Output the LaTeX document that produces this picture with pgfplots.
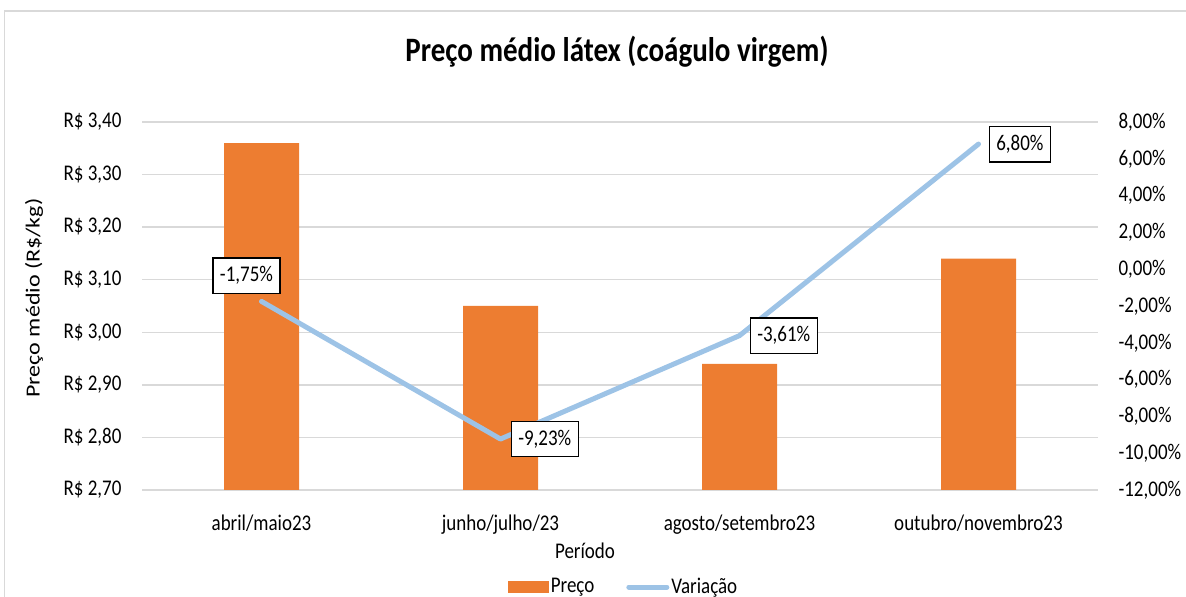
\documentclass[border=0pt]{standalone}
\usepackage{pgfplots}
\pgfplotsset{compat=1.18}
\usepackage{fontspec}
\setmainfont{Carlito}
\definecolor{barorange}{HTML}{ED7D31}
\definecolor{lineblue}{HTML}{9DC3E6}
\definecolor{gridgray}{HTML}{D9D9D9}
\tikzset{label box/.style={draw=black, line width=1.5pt, fill=white, text=black,
    inner xsep=7pt, inner ysep=0pt, minimum height=30pt, yscale=1.18, font=\fontsize{19}{23}\selectfont}}
\begin{document}
\begin{tikzpicture}
\fontsize{19}{23}\selectfont
\path[use as bounding box] (0pt,0pt) rectangle (1186pt,597pt);
\draw[gridgray, line width=1.5pt] (4.5pt,0pt) -- (4.5pt,586pt) -- (1190pt,586pt);
\node[font=\fontsize{29}{34}\selectfont\bfseries, yscale=1.18] at (617pt,545pt) {Preço médio látex (coágulo virgem)};
\node[font=\fontsize{20}{24}\selectfont] at (34pt,299pt) {\rotatebox{90}{\scalebox{1.2}[1]{Preço médio (R\$/kg)}}};
\node[yscale=1.18] at (585pt,46pt) {Período};
\begin{axis}[
  at={(142pt,107pt)}, anchor=south west,
  scale only axis, width=956pt, height=368pt,
  xmin=-0.5, xmax=3.5, ymin=2.70, ymax=3.40,
  xtick={0,1,2,3},
  xticklabels={abril/maio23, junho/julho/23, agosto/setembro23, outubro/novembro23},
  ytick={2.7,2.8,2.9,3.0,3.1,3.2,3.3,3.4},
  yticklabels={{R\$ 2,70}, {R\$ 2,80}, {R\$ 2,90}, {R\$ 3,00}, {R\$ 3,10}, {R\$ 3,20}, {R\$ 3,30}, {R\$ 3,40}},
  ymajorgrids, major grid style={gridgray, line width=1.5pt},
  major tick length=0pt,
  tick label style={font=\fontsize{19}{23}\selectfont, yscale=1.18},
  xticklabel style={yshift=-15pt},
  yticklabel style={xshift=-14pt},
  separate axis lines,
  x axis line style={draw=none}, y axis line style={draw=none},
  clip=false,
]
\addplot[ybar, bar width=75pt, fill=barorange, draw=none] coordinates {(0,3.36) (1,3.05) (2,2.94) (3,3.14)};
\end{axis}
\begin{axis}[
  at={(142pt,107pt)}, anchor=south west,
  scale only axis, width=956pt, height=368pt,
  xmin=-0.5, xmax=3.5, ymin=-12, ymax=8,
  axis x line=none,
  axis y line*=right,
  y axis line style={draw=none},
  ytick={-12,-10,-8,-6,-4,-2,0,2,4,6,8},
  yticklabels={{-12,00\%},{-10,00\%},{-8,00\%},{-6,00\%},{-4,00\%},{-2,00\%},{0,00\%},{2,00\%},{4,00\%},{6,00\%},{8,00\%}},
  major tick length=0pt,
  tick label style={font=\fontsize{19}{23}\selectfont, yscale=1.18},
  yticklabel style={xshift=14pt, anchor=west},
  clip=false,
  legend style={at={(axis description cs:0.504,-0.2636)}, anchor=center, draw=none, fill=none,
    legend columns=2, font=\fontsize{19}{23}\selectfont,
    nodes={yscale=1.18},
    /tikz/every even column/.append style={column sep=30pt}},
]
\addlegendimage{legend image code/.code={\fill[barorange] (0pt,-5.5pt) rectangle (40pt,5.5pt);}}
\addlegendentry{Preço}
\addplot[lineblue, line width=5pt, line cap=round, line join=round,
  legend image code/.code={\draw[lineblue, line width=5pt, line cap=round] (2pt,0pt) -- (40pt,0pt);},
] coordinates {(0,-1.75) (1,-9.23) (2,-3.61) (3,6.80)};
\addlegendentry{Variação}
\addplot[draw=none, forget plot, point meta=explicit symbolic, nodes near coords,
  every node near coord/.style={label box, anchor=south, xshift=-15pt, yshift=6pt},
] coordinates {(0,-1.75) [-1,75\%]};
\addplot[draw=none, forget plot, point meta=explicit symbolic, nodes near coords,
  every node near coord/.style={label box, anchor=west, xshift=10pt},
] coordinates {(1,-9.23) [-9,23\%] (2,-3.61) [-3,61\%] (3,6.80) [6,80\%]};
\end{axis}
\end{tikzpicture}
\end{document}
